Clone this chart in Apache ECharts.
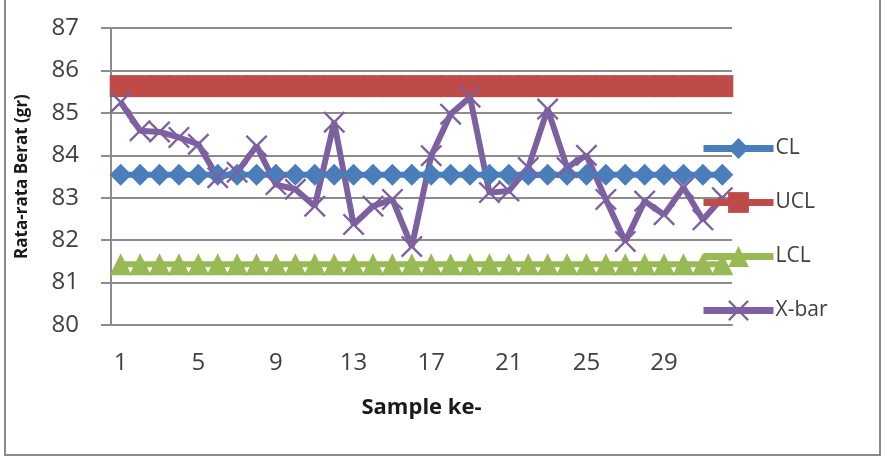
<!DOCTYPE html>
<html>
<head>
<meta charset="utf-8">
<script src="https://cdn.jsdelivr.net/npm/echarts@6/dist/echarts.min.js"></script>
<style>
  html, body { margin: 0; padding: 0; background: #fff; }
  #chart { width: 894px; height: 458px; }
</style>
</head>
<body>
<div id="chart"></div>
<script>
var samples = ['1','2','3','4','5','6','7','8','9','10','11','12','13','14','15','16',
               '17','18','19','20','21','22','23','24','25','26','27','28','29','30','31','32'];
var clValues = [83.54,83.54,83.54,83.54,83.54,83.54,83.54,83.54,83.54,83.54,83.54,83.54,83.54,83.54,83.54,83.54,
                83.54,83.54,83.54,83.54,83.54,83.54,83.54,83.54,83.54,83.54,83.54,83.54,83.54,83.54,83.54,83.54];
var uclValues = [85.63,85.63,85.63,85.63,85.63,85.63,85.63,85.63,85.63,85.63,85.63,85.63,85.63,85.63,85.63,85.63,
                 85.63,85.63,85.63,85.63,85.63,85.63,85.63,85.63,85.63,85.63,85.63,85.63,85.63,85.63,85.63,85.63];
var lclValues = [81.43,81.43,81.43,81.43,81.43,81.43,81.43,81.43,81.43,81.43,81.43,81.43,81.43,81.43,81.43,81.43,
                 81.43,81.43,81.43,81.43,81.43,81.43,81.43,81.43,81.43,81.43,81.43,81.43,81.43,81.43,81.43,81.43];
var xbarValues = [85.25,84.58,84.55,84.42,84.26,83.47,83.6,84.22,83.31,83.2,82.8,84.78,82.37,82.8,82.96,81.85,
                  83.99,84.97,85.37,83.12,83.16,83.71,85.09,83.71,84.0,82.96,81.97,82.92,82.6,83.24,82.48,83.0];

var blue = '#4A7EBB', red = '#BE4B48', green = '#98B954', purple = '#7D60A0';
var gridGray = '#8C8C8C', textCol = '#404040';
var font = '"Open Sans", Lato, sans-serif';
var xShape = 'path://M0,1.5L1.5,0L10,8.5L18.5,0L20,1.5L11.5,10L20,18.5L18.5,20L10,11.5L1.5,20L0,18.5L8.5,10Z';

function limitSeries(name, data, color, symbol) {
  return {
    name: name, type: 'line', data: data,
    symbol: symbol, symbolSize: 22, showAllSymbol: true,
    lineStyle: { color: color, width: 6 },
    itemStyle: { color: color },
    emphasis: { disabled: true }
  };
}

var chart = echarts.init(document.getElementById('chart'), null, { renderer: 'canvas' });
chart.setOption({
  animation: false,
  graphic: [{
    type: 'rect', shape: { x: 5, y: -5, width: 875, height: 460 },
    style: { fill: 'none', stroke: '#8A8A8A', lineWidth: 2 }, z: -1
  }],
  legend: {
    orient: 'vertical', left: 695, top: 133,
    itemWidth: 70, itemHeight: 26, itemGap: 33,
    lineStyle: { width: 7 },
    textStyle: { color: textCol, fontSize: 21, fontFamily: font, padding: [0, 0, 0, -3] },
    data: ['CL', 'UCL', 'LCL', 'X-bar']
  },
  grid: { left: 111, right: 162, top: 28, bottom: 133 },
  xAxis: {
    type: 'category', data: samples, boundaryGap: true,
    name: 'Sample ke-', nameLocation: 'middle', nameGap: 72,
    nameTextStyle: { color: '#1a1a1a', fontSize: 22, fontWeight: 'bold', fontFamily: font },
    axisLine: { lineStyle: { color: gridGray, width: 2 } },
    axisTick: { show: false },
    axisLabel: { interval: 3, color: textCol, fontSize: 24, fontFamily: font, margin: 26 }
  },
  yAxis: {
    type: 'value', min: 80, max: 87, interval: 1,
    name: 'Rata-rata Berat (gr)', nameLocation: 'middle', nameGap: 80,
    nameTextStyle: { color: '#1a1a1a', fontSize: 17, fontWeight: 'bold', fontFamily: font },
    axisLine: { show: true, lineStyle: { color: gridGray, width: 2 } },
    axisTick: { show: true, inside: false, length: 10, lineStyle: { color: gridGray, width: 2 } },
    splitLine: { lineStyle: { color: gridGray, width: 2 } },
    axisLabel: { color: textCol, fontSize: 24, fontFamily: font, margin: 32 }
  },
  series: [
    limitSeries('CL', clValues, blue, 'diamond'),
    limitSeries('UCL', uclValues, red, 'rect'),
    limitSeries('LCL', lclValues, green, 'triangle'),
    {
      name: 'X-bar', type: 'line', data: xbarValues,
      symbol: xShape, symbolSize: 22, showAllSymbol: true,
      lineStyle: { color: purple, width: 6 },
      itemStyle: { color: purple },
      emphasis: { disabled: true }
    }
  ]
});
</script>
</body>
</html>
